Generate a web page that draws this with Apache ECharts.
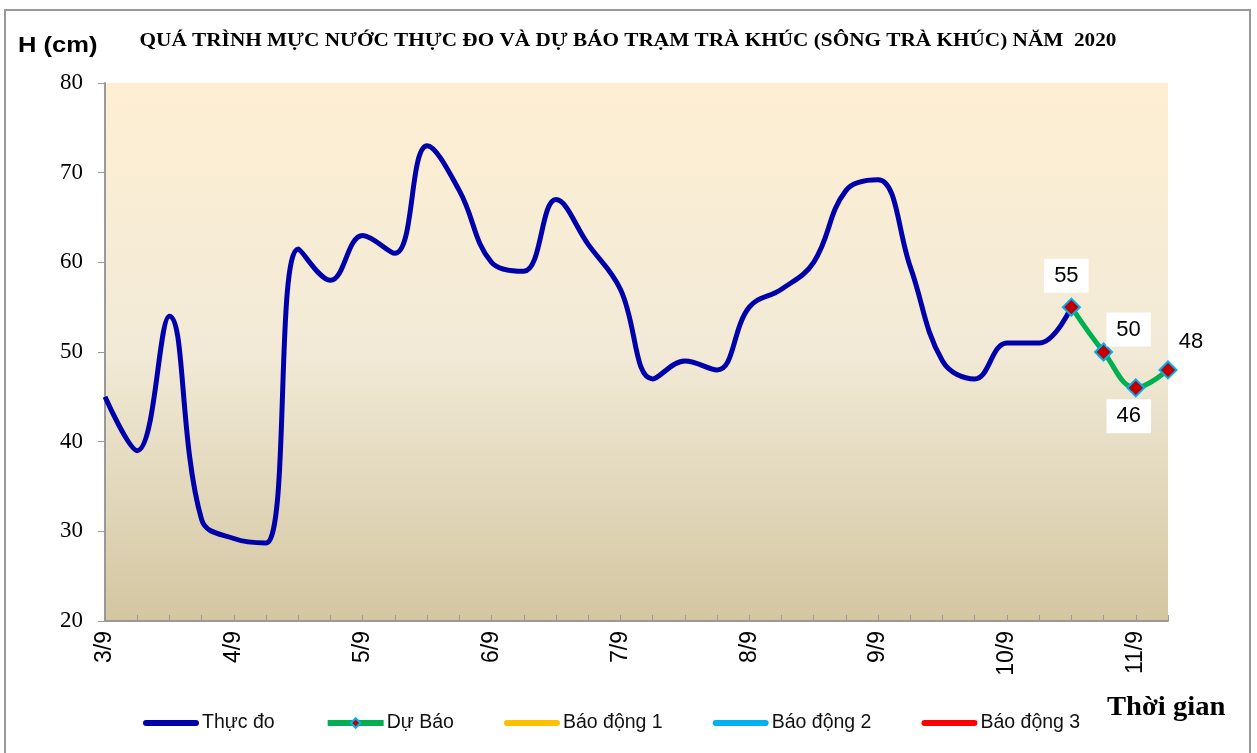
<!DOCTYPE html>
<html>
<head>
<meta charset="utf-8">
<script src="https://cdn.jsdelivr.net/npm/echarts@6/dist/echarts.min.js"></script>
<style>
html,body{margin:0;padding:0;background:#fff;}
#chart{width:1257px;height:753px;}
</style>
</head>
<body>
<div id="chart"></div>
<script>
// Time points every 6 hours (label shows the day)
const days = ['3/9','4/9','5/9','6/9','7/9','8/9','9/9','10/9','11/9'];
const hours = ['01h','07h','13h','19h'];
const categories = [];
days.forEach(function (d) { hours.forEach(function (h) { categories.push(h + ' ' + d); }); });
categories.length = 34;

// Observed water level (cm)
const thucDo = [45, 39, 54, 31.3, 29.2, 28.7, 61.5, 58, 63, 61,
                73, 68, 60, 59, 67, 62, 57, 47, 49, 48,
                55, 57, 60, 68, 69.2, 59.5, 49, 47, 51, 51,
                55];
// Forecast (cm)
const duBao = [null, null, null, null, null, null, null, null, null, null,
               null, null, null, null, null, null, null, null, null, null,
               null, null, null, null, null, null, null, null, null, null,
               55, 50, 46, 48];
const baoDong1 = [];
const baoDong2 = [];
const baoDong3 = [];
const yTicks = [20, 30, 40, 50, 60, 70, 80];
const seriesNames = ['Thực đo', 'Dự Báo', 'Báo động 1', 'Báo động 2', 'Báo động 3'];

const chart = echarts.init(document.getElementById('chart'));

const labelCfg = [
  {position: 'top', offset: [-5, 0]},
  {position: 'top', offset: [25, 9]},
  {position: 'bottom', offset: [-7, -3]},
  {position: 'top', offset: [23, 4], backgroundColor: 'transparent'}
];
const duBaoData = duBao.map(function (v, i) {
  if (v === null) return v;
  return {value: v, label: Object.assign({show: true}, labelCfg[i - 30])};
});

const barIcon = 'path://M3,0 L52,0 A3,3 0 0 1 52,6 L3,6 A3,3 0 0 1 3,0 Z';

chart.setOption({
  animation: false,
  backgroundColor: '#ffffff',
  graphic: [
    {type: 'rect', shape: {x: 5, y: 10, width: 1245, height: 770}, style: {fill: 'none', stroke: '#999', lineWidth: 2}, silent: true},
    {type: 'text', x: 628, y: 32, scaleX: 1.18,
     style: {text: 'QUÁ TRÌNH MỰC NƯỚC THỰC ĐO VÀ DỰ BÁO TRẠM TRÀ KHÚC (SÔNG TRÀ KHÚC) NĂM  2020',
             textAlign: 'center', fontFamily: 'Liberation Serif', fontWeight: 'bold', fontSize: 18, fill: '#000'}},
    {type: 'text', x: 18, y: 35, scaleX: 1.16,
     style: {text: 'H (cm)', fontFamily: 'Liberation Sans', fontWeight: 'bold', fontSize: 22, fill: '#000'}},
    {type: 'text', x: 1107, y: 695, scaleX: 1.06,
     style: {text: 'Thời gian', fontFamily: 'Liberation Serif', fontWeight: 'bold', fontSize: 27, fill: '#000'}}
  ],
  grid: {
    left: 105, right: 89, top: 83, bottom: 132,
    show: true, borderWidth: 0,
    backgroundColor: new echarts.graphic.LinearGradient(0, 0, 0, 1, [
      {offset: 0, color: '#FEEFD3'},
      {offset: 0.5, color: '#F2EAD7'},
      {offset: 1, color: '#D3C6A1'}
    ])
  },
  legend: {
    left: 143, top: 713, padding: 0,
    itemGap: 50, itemWidth: 56, itemHeight: 12,
    lineStyle: {width: 6},
    textStyle: {fontFamily: 'Liberation Sans', fontSize: 19.5, color: '#111', padding: [0, 0, 0, -2]},
    data: [
      {name: seriesNames[0], icon: barIcon},
      {name: seriesNames[1]},
      {name: seriesNames[2], icon: barIcon},
      {name: seriesNames[3], icon: barIcon},
      {name: seriesNames[4], icon: barIcon}
    ]
  },
  xAxis: {
    type: 'category',
    data: categories,
    boundaryGap: false,
    axisLine: {lineStyle: {color: '#999', width: 2}},
    axisTick: {inside: true, length: 6, interval: 0, lineStyle: {color: '#999', width: 1}},
    axisLabel: {
      interval: 3, rotate: 90, margin: 10,
      fontFamily: 'Liberation Sans', fontSize: 23, color: '#000',
      formatter: function (v) { return v.split(' ')[1]; }
    },
    splitLine: {show: false}
  },
  yAxis: {
    type: 'value',
    min: yTicks[0], max: yTicks[yTicks.length - 1], interval: 10,
    axisLine: {show: true, lineStyle: {color: '#999', width: 2}},
    axisTick: {show: true, length: 7, lineStyle: {color: '#999'}},
    axisLabel: {margin: 22, fontFamily: 'Liberation Serif', fontSize: 23, color: '#000'},
    splitLine: {show: false}
  },
  series: [
    {
      name: seriesNames[0], type: 'line', data: thucDo, smooth: 0.4,
      showSymbol: false, symbol: 'none',
      lineStyle: {color: '#0000AA', width: 5}, itemStyle: {color: '#0000AA'}, z: 3
    },
    {
      name: seriesNames[1], type: 'line', data: duBaoData, smooth: 0.4,
      symbol: 'diamond', symbolSize: 17, showAllSymbol: true,
      lineStyle: {color: '#00B050', width: 5},
      itemStyle: {color: '#C00000', borderColor: '#00B0F0', borderWidth: 2},
      label: {
        show: true, fontFamily: 'Liberation Sans', fontSize: 22, color: '#000',
        backgroundColor: '#ffffff', padding: [6, 10], distance: 5
      },
      z: 4
    },
    {name: seriesNames[2], type: 'line', data: baoDong1, lineStyle: {color: '#FFC000', width: 5}, itemStyle: {color: '#FFC000'}, symbol: 'none'},
    {name: seriesNames[3], type: 'line', data: baoDong2, lineStyle: {color: '#00B0F0', width: 5}, itemStyle: {color: '#00B0F0'}, symbol: 'none'},
    {name: seriesNames[4], type: 'line', data: baoDong3, lineStyle: {color: '#FF0000', width: 5}, itemStyle: {color: '#FF0000'}, symbol: 'none'}
  ]
});
</script>
</body>
</html>
